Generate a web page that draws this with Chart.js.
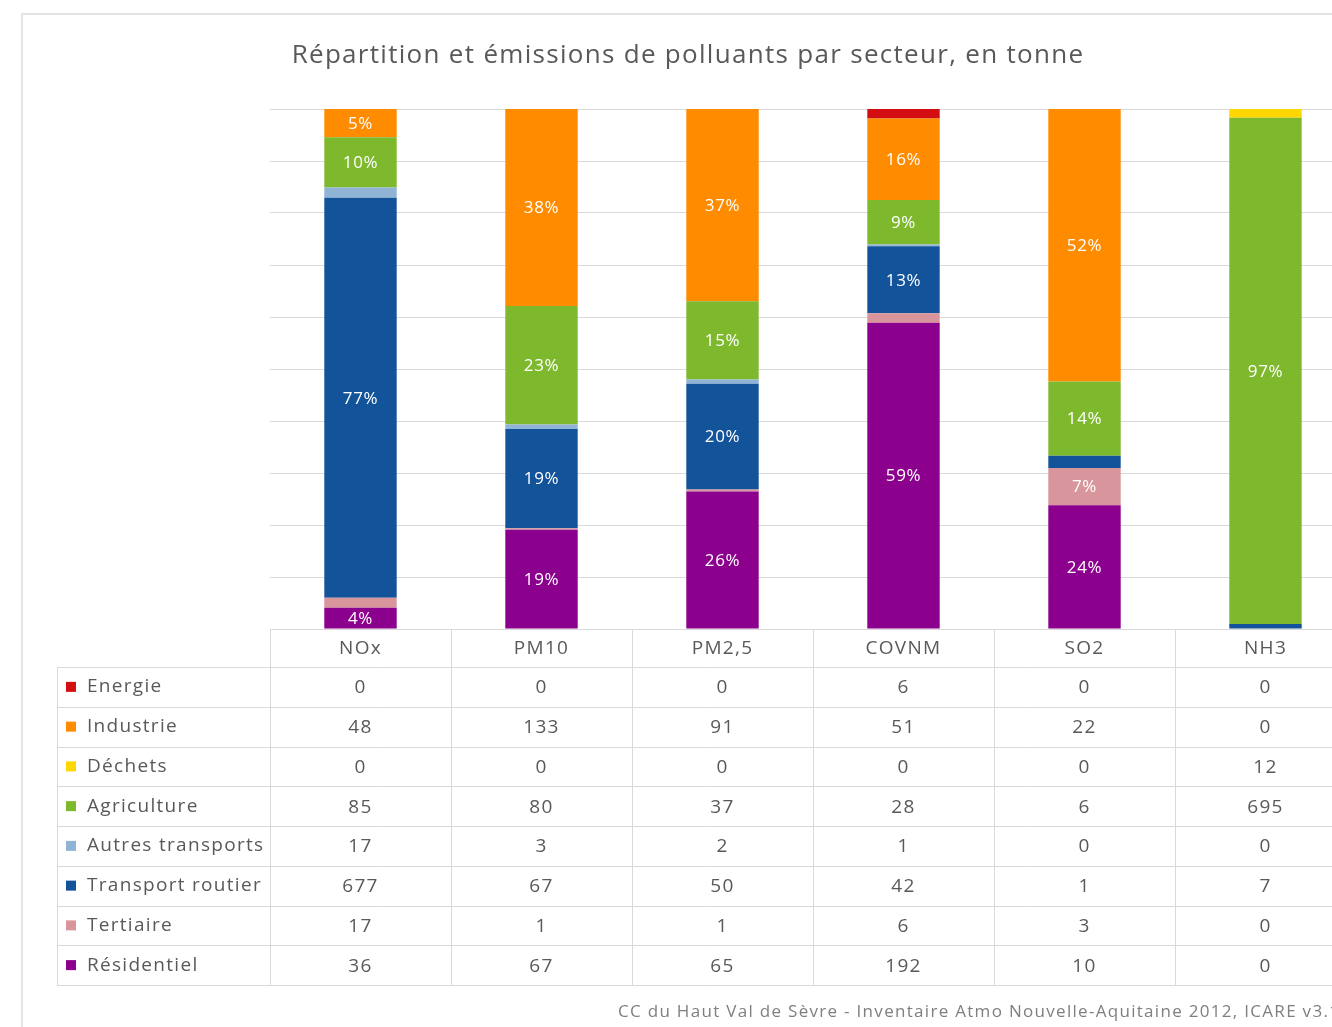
<!DOCTYPE html>
<html lang="fr">
<head>
<meta charset="utf-8">
<title>Répartition et émissions de polluants par secteur</title>
<script src="https://cdn.jsdelivr.net/npm/chart.js@4.4.1/dist/chart.umd.min.js"></script>
<style>
	html, body { margin: 0; padding: 0; background: #ffffff; overflow: hidden; }
	#wrap { position: relative; width: 1360px; height: 1027px; }
</style>
</head>
<body>
<div id="wrap"><canvas id="chart" width="1360" height="1027"></canvas></div>
<script>

// polluants (colonnes du tableau)
var categories			=	["NOx", "PM10", "PM2,5", "COVNM", "SO2", "NH3"];

// secteurs, dans l'ordre du tableau
var sectors				=	["Energie", "Industrie", "Déchets", "Agriculture", "Autres transports", "Transport routier", "Tertiaire", "Résidentiel"];

// émissions en tonne
var energie				=	[0, 0, 0, 6, 0, 0];
var industrie			=	[48, 133, 91, 51, 22, 0];
var dechets				=	[0, 0, 0, 0, 0, 12];
var agriculture			=	[85, 80, 37, 28, 6, 695];
var autresTransports	=	[17, 3, 2, 1, 0, 0];
var transportRoutier	=	[677, 67, 50, 42, 1, 7];
var tertiaire			=	[17, 1, 1, 6, 3, 0];
var residentiel			=	[36, 67, 65, 192, 10, 0];

var emissions			=	[energie, industrie, dechets, agriculture, autresTransports, transportRoutier, tertiaire, residentiel];

var sectorColours		=	["#d40d12", "#ff8c00", "#ffd700", "#7eb92d", "#8fb4d6", "#13539a", "#d8959c", "#8b008d"];

var title				=	"Répartition et émissions de polluants par secteur, en tonne";
var source				=	"CC du Haut Val de Sèvre - Inventaire Atmo Nouvelle-Aquitaine 2012, ICARE v3.1";

var font				=	"'Open Sans', Lato, sans-serif";
var textColour			=	"#595959";
var lineColour			=	"#d9d9d9";

/**
 * Totals per pollutant
 */
function totals() {
	var sums = categories.map(function () { return 0; });
	emissions.forEach(function (row) {
		row.forEach(function (v, i) { sums[i] += v; });
	});
	return sums;
}

/**
 * Datasets in percent, bottom of the stack first
 */
function buildDatasets() {
	var sums = totals();
	var datasets = [];
	for (var s = sectors.length - 1; s >= 0; s--) {
		datasets.push({
			label				:	sectors[s],
			data				:	emissions[s].map(function (v, i) { return sums[i] ? v / sums[i] * 100 : 0; }),
			backgroundColor		:	sectorColours[s],
			borderWidth			:	0,
			categoryPercentage	:	1,
			barPercentage		:	0.4
		});
	}
	return datasets;
}

/**
 * Percent labels inside the segments
 */
var segmentLabels = {
	id: "segmentLabels",
	afterDatasetsDraw: function (chart) {
		var ctx = chart.ctx;
		ctx.save();
		ctx.font = "17px " + font;
		ctx.letterSpacing = "0.6px";
		ctx.fillStyle = "#ffffff";
		ctx.textAlign = "center";
		ctx.textBaseline = "middle";
		chart.data.datasets.forEach(function (ds, d) {
			var meta = chart.getDatasetMeta(d);
			meta.data.forEach(function (bar, i) {
				var pct = ds.data[i];
				if (pct < 3.5) return;
				ctx.fillText(Math.round(pct) + "%", bar.x, (bar.y + bar.base) / 2 + 1);
			});
		});
		ctx.restore();
	}
};

/**
 * Title, data table, frame and source
 */
var dataTable = {
	id: "dataTable",
	afterDraw: function (chart) {
		var ctx = chart.ctx;
		var area = chart.chartArea;
		var x = chart.scales.x;
		var colWidth = (area.right - area.left) / categories.length;
		var top = Math.round(area.bottom);
		var headH = 38;
		var rowH = 39.75;
		var tableLeft = 57;
		var bottom = top + headH + rowH * sectors.length;

		ctx.save();

		// frame
		ctx.strokeStyle = "#e3e3e3";
		ctx.lineWidth = 2;
		ctx.beginPath();
		ctx.moveTo(22, chart.height);
		ctx.lineTo(22, 14);
		ctx.lineTo(chart.width, 14);
		ctx.stroke();

		// title
		ctx.fillStyle = textColour;
		ctx.font = "26px " + font;
		ctx.letterSpacing = "1.3px";
		ctx.textAlign = "center";
		ctx.textBaseline = "middle";
		ctx.fillText(title, 688, 56);

		// grid of the table
		ctx.strokeStyle = lineColour;
		ctx.lineWidth = 1;
		ctx.beginPath();
		for (var c = 0; c <= categories.length; c++) {
			var cx = Math.round(area.left + c * colWidth) + 0.5;
			ctx.moveTo(cx, top);
			ctx.lineTo(cx, bottom);
		}
		ctx.moveTo(tableLeft + 0.5, top + headH);
		ctx.lineTo(tableLeft + 0.5, bottom);
		for (var r = 0; r <= sectors.length; r++) {
			var ry = Math.round(top + headH + r * rowH) + 0.5;
			ctx.moveTo(tableLeft, ry);
			ctx.lineTo(area.right, ry);
		}
		ctx.stroke();

		// header
		ctx.fillStyle = textColour;
		ctx.font = "19px " + font;
		ctx.letterSpacing = "1.3px";
		ctx.textAlign = "center";
		categories.forEach(function (cat, i) {
			ctx.fillText(cat, x.getPixelForValue(i), top + headH / 2 + 1);
		});

		// rows
		sectors.forEach(function (name, s) {
			var cy = top + headH + rowH * s + rowH / 2;
			ctx.fillStyle = sectorColours[s];
			ctx.fillRect(66, cy - 5, 10, 10);
			ctx.fillStyle = textColour;
			ctx.textAlign = "left";
			ctx.fillText(name, 87, cy);
			ctx.textAlign = "center";
			emissions[s].forEach(function (v, i) {
				ctx.fillText(String(v), x.getPixelForValue(i), cy + 1);
			});
		});

		// source
		ctx.fillStyle = "#7f7f7f";
		ctx.font = "17px " + font;
		ctx.letterSpacing = "1.3px";
		ctx.textAlign = "left";
		ctx.fillText(source, 618, 1012);

		ctx.restore();
	}
};

new Chart(document.getElementById("chart"), {
	type						:	"bar",
	data						:	{
		labels					:	categories,
		datasets				:	buildDatasets()
	},
	options						:	{
		responsive				:	false,
		animation				:	false,
		layout					:	{ padding: { left: 270, top: 109, right: 4, bottom: 398 } },
		plugins					:	{
			legend				:	{ display: false },
			title				:	{ display: false },
			tooltip				:	{ enabled: false }
		},
		scales					:	{
			x					:	{ display: false, stacked: true },
			y					:	{
				stacked			:	true,
				min				:	0,
				max				:	100,
				ticks			:	{ display: false, stepSize: 10 },
				grid			:	{ color: lineColour, drawTicks: false },
				border			:	{ display: false }
			}
		}
	},
	plugins						:	[segmentLabels, dataTable]
});

</script>
</body>
</html>
